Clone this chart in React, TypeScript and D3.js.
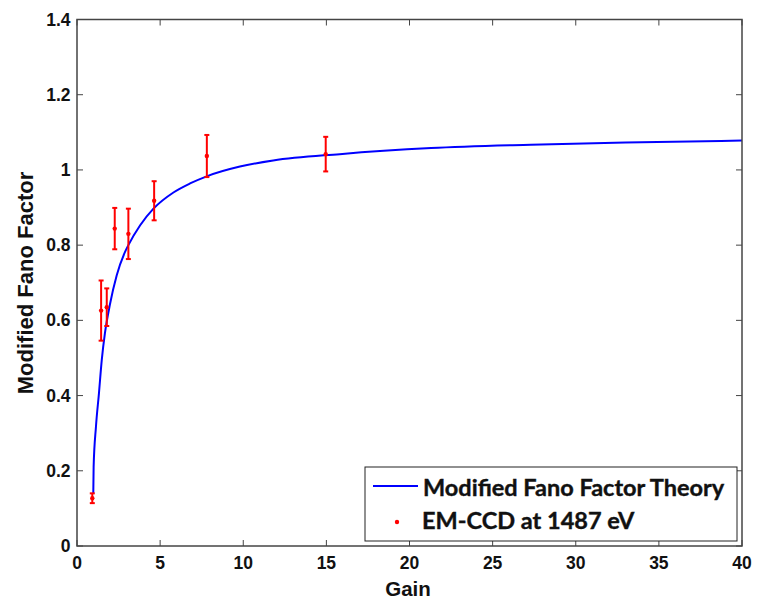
import React from "react";
import { scaleLinear, line, curveMonotoneX, range } from "d3";

const width = 757;
const height = 603;
const left = 77;
const right = 742;
const top = 19.5;
const bottom = 546;

// theory curve
const curveGain = [0.98, 1.0, 1.14, 1.32, 1.49, 1.68, 1.98, 2.39, 2.89, 3.09, 3.8, 4.6, 5.8, 6.8, 7.8, 9.8, 11.8, 15.8, 21.3, 27.3, 33, 40];
const curveFano = [0.14, 0.21, 0.317, 0.406, 0.495, 0.566, 0.642, 0.72, 0.782, 0.8, 0.853, 0.897, 0.94, 0.964, 0.983, 1.009, 1.025, 1.042, 1.058, 1.067, 1.073, 1.078];

// measured points
const pointGain = [0.92, 1.45, 1.79, 2.27, 3.09, 4.64, 7.81, 14.96];
const pointFano = [0.127, 0.626, 0.635, 0.844, 0.83, 0.918, 1.037, 1.042];
const pointErr = [0.013, 0.08, 0.05, 0.055, 0.067, 0.052, 0.056, 0.046];

const xTicks = range(0, 41, 5);
const yTicks = [0, 0.2, 0.4, 0.6, 0.8, 1, 1.2, 1.4];

const legendLabels = ["Modified Fano Factor Theory", "EM-CCD at 1487 eV"];

const x = scaleLinear().domain([0, 40]).range([left, right]);
const y = scaleLinear().domain([0, 1.4]).range([bottom, top]);

const theoryLine = line<number>()
  .x((d, i) => x(curveGain[i]))
  .y((d) => y(d))
  .curve(curveMonotoneX);

const axisColor = "#444";
const tickFont = "'Liberation Sans', Arial, sans-serif";
const legendFont = "Lato, 'Open Sans', sans-serif";

const App = () => (
  <div style={{ position: "absolute", left: 0, top: 0 }}>
    <svg width={width} height={height} style={{ display: "block", background: "#fff" }}>
      <rect x={0} y={0} width={width} height={height} fill="#fff" />

      {/* ticks, inward on all four sides */}
      {xTicks.map((t) => (
        <g key={"x" + t}>
          <line x1={x(t)} x2={x(t)} y1={bottom} y2={bottom - 6} stroke={axisColor} strokeWidth={1} />
          <line x1={x(t)} x2={x(t)} y1={top} y2={top + 6} stroke={axisColor} strokeWidth={1} />
          <text
            x={x(t)}
            y={568.5}
            textAnchor="middle"
            fontFamily={tickFont}
            fontWeight="bold"
            fontSize={17.5}
            fill="#111"
          >
            {t}
          </text>
        </g>
      ))}
      {yTicks.map((t) => (
        <g key={"y" + t}>
          <line x1={left} x2={left + 6} y1={y(t)} y2={y(t)} stroke={axisColor} strokeWidth={1} />
          <line x1={right} x2={right - 6} y1={y(t)} y2={y(t)} stroke={axisColor} strokeWidth={1} />
          <text
            x={70.5}
            y={y(t) + 6}
            textAnchor="end"
            fontFamily={tickFont}
            fontWeight="bold"
            fontSize={17.5}
            fill="#111"
          >
            {t}
          </text>
        </g>
      ))}

      {/* theory curve */}
      <path d={theoryLine(curveFano) || ""} fill="none" stroke="#0000ff" strokeWidth={2} />

      {/* data with error bars */}
      {pointGain.map((g, i) => {
        const cx = x(g);
        const y1 = y(pointFano[i] + pointErr[i]);
        const y2 = y(pointFano[i] - pointErr[i]);
        return (
          <g key={"p" + i} stroke="#ff0000" strokeWidth={2}>
            <line x1={cx} x2={cx} y1={y1} y2={y2} />
            <line x1={cx - 2.5} x2={cx + 2.5} y1={y1} y2={y1} />
            <line x1={cx - 2.5} x2={cx + 2.5} y1={y2} y2={y2} />
            <circle cx={cx} cy={y(pointFano[i])} r={2.2} fill="#ff0000" stroke="none" />
          </g>
        );
      })}

      {/* box */}
      <rect
        x={left}
        y={top}
        width={right - left}
        height={bottom - top}
        fill="none"
        stroke={axisColor}
        strokeWidth={1.5}
      />

      {/* legend */}
      <rect x={365} y={467} width={372} height={74} fill="#fff" stroke="#222" strokeWidth={1} />
      <line x1={373} x2={418} y1={486} y2={486} stroke="#0000ff" strokeWidth={2} />
      <circle cx={397} cy={522} r={2.2} fill="#ff0000" />
      <g fontFamily={legendFont} fontWeight="bold" fontSize={23.5} fill="#111" stroke="#111" strokeWidth={0.4}>
        <text x={423} y={495.5}>{legendLabels[0]}</text>
        <text x={422} y={529}>{legendLabels[1]}</text>
      </g>

      {/* axis titles */}
      <text x={408} y={595.5} textAnchor="middle" fontFamily={tickFont} fontWeight="bold" fontSize={20.5} fill="#111">
        Gain
      </text>
      <text
        transform="translate(33, 283) rotate(-90)"
        textAnchor="middle"
        fontFamily={tickFont}
        fontWeight="bold"
        fontSize={22}
        fill="#111"
      >
        Modified Fano Factor
      </text>
    </svg>
  </div>
);

export default App;
